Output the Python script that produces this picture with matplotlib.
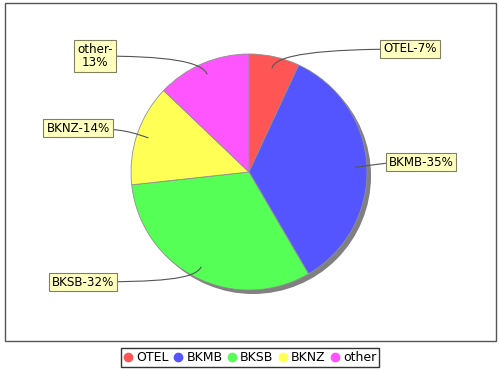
import numpy as np
import matplotlib
matplotlib.use("Agg")
import matplotlib.pyplot as plt
from matplotlib.patches import Rectangle, Circle, PathPatch
from matplotlib.path import Path
from matplotlib.lines import Line2D

categories = ["OTEL", "BKMB", "BKSB", "BKNZ", "other"]
values = [7, 35, 32, 14, 13]
labels = ["OTEL-7%", "BKMB-35%", "BKSB-32%", "BKNZ-14%", "other-\n13%"]
colors = ["#FF5555", "#5555FF", "#55FF55", "#FFFF55", "#FF55FF"]

# layout (pixel coords, y up)
W, H = 500, 370
cx, cy, R = 249, 370 - 172, 118
label_pos = [(410, 370 - 49), (421, 370 - 162), (83, 370 - 282), (78, 370 - 128), (95, 370 - 56)]

fig = plt.figure(figsize=(5, 3.7), dpi=100)
ax = fig.add_axes([0, 0, 1, 1])

# plot border
ax.add_patch(Rectangle((5, 29), 491, 338, fill=False, edgecolor="#555555", lw=1.0, zorder=0))

# shadow
ax.add_patch(Circle((cx + 4, cy - 4), R, facecolor="#808080", edgecolor="none", zorder=1))

wedges, _ = ax.pie(values, colors=colors, startangle=90, counterclock=False,
                   center=(cx, cy), radius=R,
                   wedgeprops=dict(edgecolor="#909090", linewidth=0.6, zorder=2))
for w in wedges:
    w.set_zorder(2)

total = sum(values)
cum = 0
for v, lab, (lx, ly) in zip(values, labels, label_pos):
    mid = 90 - (cum + v / 2) / total * 360
    cum += v
    a = np.deg2rad(mid)
    ax_, ay_ = cx + 0.9 * R * np.cos(a), cy + 0.9 * R * np.sin(a)
    t = ax.text(lx, ly, lab, ha="center", va="center", fontsize=8.6, zorder=6,
                linespacing=1.0,
                bbox=dict(boxstyle="square,pad=0.25", facecolor="#FFFFC0",
                          edgecolor="#808060", lw=0.8))
    fig.canvas.draw()
    bb = t.get_bbox_patch().get_window_extent().transformed(ax.transData.inverted())
    if lx > cx:
        sx = bb.x0
        d = -1
    else:
        sx = bb.x1
        d = 1
    sy = ly
    # shadow of box
    ax.add_patch(Rectangle((bb.x0 + 2, bb.y0 - 2), bb.width, bb.height,
                           facecolor="#D8D8D8", edgecolor="none", zorder=5))
    dist = abs(sx - ax_)
    c1 = (sx + d * dist * 0.65, sy)
    c2 = (ax_ + 0.12 * R * np.cos(a), ay_ + 0.12 * R * np.sin(a))
    path = Path([(sx, sy), c1, c2, (ax_, ay_)],
                [Path.MOVETO, Path.CURVE4, Path.CURVE4, Path.CURVE4])
    ax.add_patch(PathPatch(path, fill=False, edgecolor="#555555", lw=0.8, zorder=4))

ax.set_xlim(0, W)
ax.set_ylim(0, H)
ax.set_aspect("equal")
ax.axis("off")

handles = [Line2D([], [], marker="o", linestyle="none", markersize=6,
                  markerfacecolor=c, markeredgecolor=c) for c in colors]
leg = fig.legend(handles, categories, loc="center", bbox_to_anchor=(250 / W, 1 - 357.5 / H),
                 ncol=5, fontsize=9, frameon=True, fancybox=False,
                 handlelength=0.7, handletextpad=0.3, columnspacing=0.4,
                 borderpad=0.25, borderaxespad=0)
leg.get_frame().set_edgecolor("black")
leg.get_frame().set_linewidth(1.0)

fig.savefig("out.png", dpi=100)
